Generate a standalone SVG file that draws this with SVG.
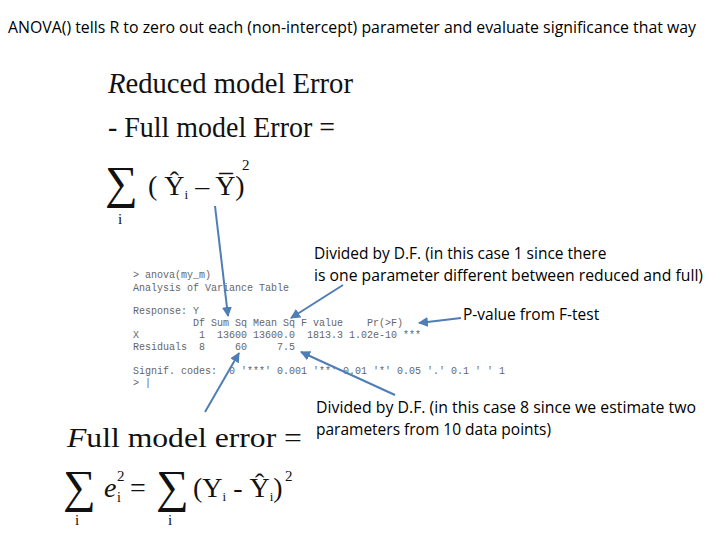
<svg xmlns="http://www.w3.org/2000/svg" width="720" height="540" viewBox="0 0 720 540">
<defs>
<style>
.t{font-family:"Open Sans","DejaVu Sans",sans-serif;font-size:15.5px;fill:#000}
.m{font-family:"Liberation Serif",serif;fill:#111}
.r{font-family:"Liberation Mono",monospace;font-size:10px;fill:#666;white-space:pre}
.c{stroke:#4f7db5;stroke-width:2;fill:none;marker-end:url(#a)}
</style>
<marker id="a" viewBox="0 0 10 10" refX="9" refY="5" markerWidth="5" markerHeight="5" orient="auto"><path d="M0,0L10,5L0,10z" fill="#4f7db5"/></marker>
</defs>
<rect width="720" height="540" fill="#fff"/>
<text class="t" x="8" y="33" textLength="688" lengthAdjust="spacingAndGlyphs">ANOVA() tells R to zero out each (non-intercept) parameter and evaluate significance that way</text>
<g id="reduced">
<text class="m" x="108" y="93" font-size="29" textLength="245" lengthAdjust="spacingAndGlyphs"><tspan font-style="italic">R</tspan>educed model Error</text>
<text class="m" x="108" y="137" font-size="29" textLength="227" lengthAdjust="spacingAndGlyphs">- Full model Error =</text>
<text class="m" x="105" y="198" font-size="46">∑</text>
<text class="m" x="118" y="224" font-size="15">i</text>
<text class="m" x="148" y="195" font-size="28">( Ŷ<tspan font-size="13" dy="4">i</tspan><tspan dy="-4"> – Y̅)</tspan></text>
<text class="m" x="242" y="170" font-size="15">2</text>
</g>
<g id="routput">
<text class="r" x="133" y="278" fill="#c44">&gt; anova(my_m)</text>
<text class="r" x="133" y="291">Analysis of Variance Table</text>
<text class="r" x="133" y="314">Response: Y</text>
<text class="r" x="133" y="326">          Df Sum Sq Mean Sq F value    Pr(&gt;F)</text>
<text class="r" x="133" y="338">X          1  13600 13600.0  1813.3 1.02e-10 ***</text>
<text class="r" x="133" y="350">Residuals  8     60     7.5</text>
<text class="r" x="133" y="374">Signif. codes:  0 '***' 0.001 '**' 0.01 '*' 0.05 '.' 0.1 ' ' 1</text>
<text class="r" x="133" y="386">&gt; |</text>
</g>
<g id="notes">
<text class="t" x="314" y="259">Divided by D.F. (in this case 1 since there</text>
<text class="t" x="314" y="281" textLength="389" lengthAdjust="spacingAndGlyphs">is one parameter different between reduced and full)</text>
<text class="t" x="463" y="320">P-value from F-test</text>
<text class="t" x="316" y="413" textLength="380" lengthAdjust="spacingAndGlyphs">Divided by D.F. (in this case 8 since we estimate two</text>
<text class="t" x="316" y="435">parameters from 10 data points)</text>
</g>
<g id="full">
<text class="m" x="67" y="447" font-size="28" textLength="235" lengthAdjust="spacingAndGlyphs"><tspan font-style="italic">F</tspan>ull model error =</text>
<text class="m" x="63" y="502" font-size="46">∑</text>
<text class="m" x="75" y="525" font-size="15">i</text>
<text class="m" x="104" y="497" font-size="28"><tspan font-style="italic">e</tspan></text>
<text class="m" x="117" y="481" font-size="15">2</text>
<text class="m" x="117" y="502" font-size="14">i</text>
<text class="m" x="130" y="497" font-size="28">=</text>
<text class="m" x="156" y="502" font-size="46">∑</text>
<text class="m" x="168" y="525" font-size="15">i</text>
<text class="m" x="193" y="497" font-size="28">(Y<tspan font-size="13" dy="4">i</tspan><tspan dy="-4"> - Ŷ</tspan><tspan font-size="13" dy="4">i</tspan><tspan dy="-4">)</tspan></text>
<text class="m" x="285" y="481" font-size="15">2</text>
</g>
<g id="connectors">
<path class="c" d="M215,206L228,316"/>
<path class="c" d="M343,285L291,318"/>
<path class="c" d="M461,318L419,323"/>
<path class="c" d="M205,412L239,353"/>
<path class="c" d="M395,395L301,352"/>
</g>
</svg>
